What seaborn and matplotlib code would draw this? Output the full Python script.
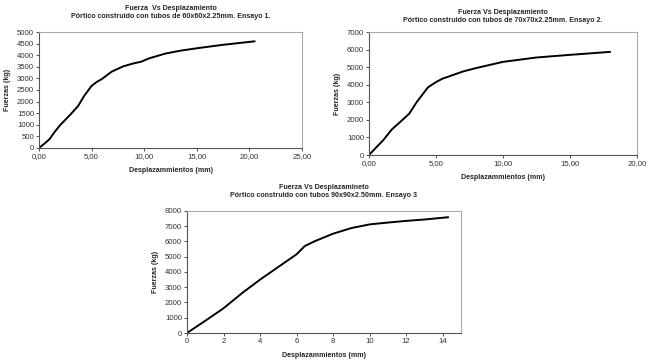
import matplotlib
matplotlib.use("Agg")
import matplotlib.pyplot as plt
import matplotlib.ticker as mticker
import seaborn as sns
import pandas as pd

# Ensayo 1: 60x60x2.25mm
x1 = [0, 0.5, 1.0, 1.5, 2.0, 3.0, 3.7, 4.3, 5.0, 5.5, 6.0, 6.9, 8.0, 9.0, 9.7, 10.5, 12.0, 13.5, 15.0, 17.5, 20.5]
y1 = [0, 180, 380, 700, 980, 1450, 1800, 2250, 2680, 2850, 2980, 3290, 3520, 3650, 3720, 3870, 4070, 4200, 4300, 4450, 4600]

# Ensayo 2: 70x70x2.25mm
x2 = [0, 0.5, 1.07, 1.7, 2.5, 3.0, 3.55, 4.0, 4.4, 5.0, 5.5, 6.0, 7.0, 8.0, 10.0, 12.5, 15.0, 18.0]
y2 = [0, 400, 850, 1450, 2000, 2350, 3000, 3450, 3850, 4150, 4350, 4480, 4750, 4950, 5300, 5550, 5700, 5870]

# Ensayo 3: 90x90x2.50mm
x3 = [0, 1.0, 2.0, 3.0, 4.0, 5.0, 6.0, 6.45, 7.0, 8.0, 9.0, 10.0, 11.0, 12.0, 13.0, 14.3]
y3 = [0, 800, 1620, 2600, 3500, 4330, 5160, 5700, 6020, 6510, 6880, 7120, 7240, 7350, 7440, 7590]

sns.set_style("white")
plt.rcParams['font.family'] = ['Liberation Sans', 'DejaVu Sans']

fig = plt.figure(figsize=(6.47, 3.6), dpi=100)

specs = [
    dict(x=x1, y=y1, rect=[0.0603, 0.589, 0.4065, 0.322],
         title="Fuerza  Vs Desplazamiento\nPórtico construido con tubos de 60x60x2.25mm. Ensayo 1.",
         xlim=(0, 25), xstep=5, ylim=(0, 5000), ystep=500, comma=True, pad=10),
    dict(x=x2, y=y2, rect=[0.5703, 0.5694, 0.4142, 0.3417],
         title="Fuerza Vs Desplazamiento\nPórtico construido con tubos de 70x70x2.25mm. Ensayo 2.",
         xlim=(0, 20), xstep=5, ylim=(0, 7000), ystep=1000, comma=True, pad=7),
    dict(x=x3, y=y3, rect=[0.289, 0.075, 0.4235, 0.339],
         title="Fuerza Vs Desplazamineto\nPórtico construido con tubos 90x90x2.50mm. Ensayo 3",
         xlim=(0, 15), xstep=2, ylim=(0, 8000), ystep=1000, comma=False, pad=10),
]

fs = 5.6
lfs = 5.1
for s in specs:
    ax = fig.add_axes(s["rect"])
    df = pd.DataFrame({"x": s["x"], "y": s["y"]})
    sns.lineplot(data=df, x="x", y="y", ax=ax, color="black", linewidth=1.4, sort=False)
    ax.set_xlim(*s["xlim"])
    ax.set_ylim(*s["ylim"])
    ax.xaxis.set_major_locator(mticker.MultipleLocator(s["xstep"]))
    ax.yaxis.set_major_locator(mticker.MultipleLocator(s["ystep"]))
    if s["comma"]:
        ax.xaxis.set_major_formatter(mticker.FuncFormatter(lambda v, p: f"{v:.2f}".replace(".", ",")))
    ax.set_title(s["title"], fontsize=lfs, fontweight="bold", pad=s["pad"], linespacing=1.25)
    ax.set_xlabel("Desplazammientos (mm)", fontsize=lfs, fontweight="bold", labelpad=5)
    ax.set_ylabel("Fuerzas (kg)", fontsize=lfs, fontweight="bold", labelpad=4)
    ax.tick_params(axis="both", labelsize=fs, length=2, width=0.6, direction="out",
                   bottom=True, left=True, pad=1.5, colors="#333333")
    for side in ["left", "bottom"]:
        ax.spines[side].set_color("#555555")
        ax.spines[side].set_linewidth(0.8)
    for side in ["top", "right"]:
        ax.spines[side].set_color("#aaaaaa")
        ax.spines[side].set_linewidth(0.8)
    ax.grid(False)

fig.savefig("out.png", dpi=100)
